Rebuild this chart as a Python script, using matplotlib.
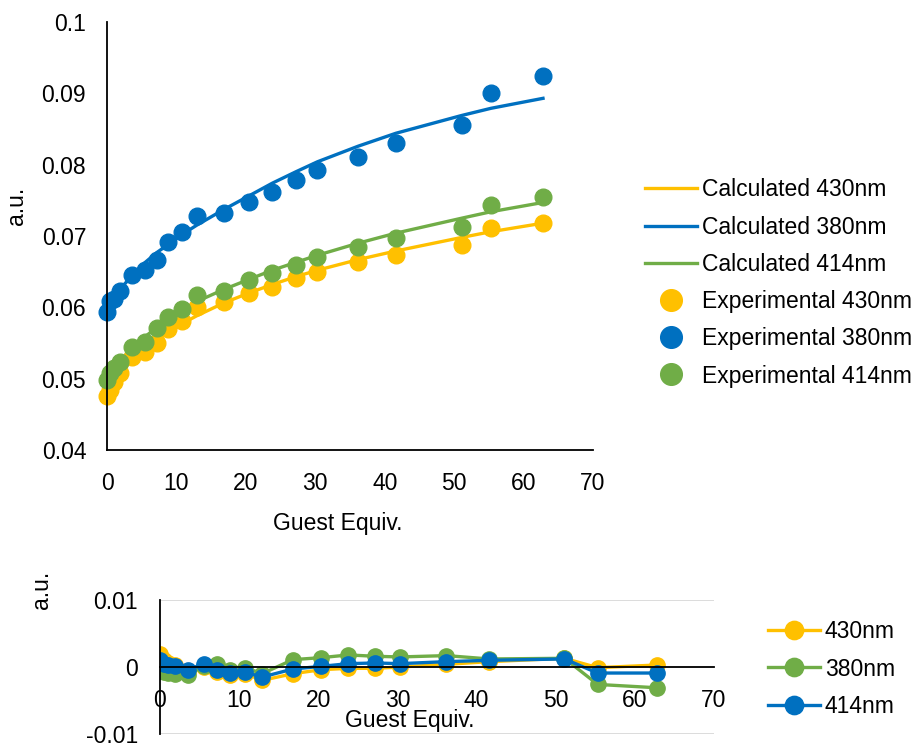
# titration fit: calculated vs experimental + residuals

import numpy as np
import matplotlib
matplotlib.use('Agg')
import matplotlib.pyplot as plt

plt.rcParams['font.family'] = ['Liberation Sans', 'DejaVu Sans']

# guest equivalents
guest = [0, 0.5, 1.0, 1.9, 3.6, 5.5, 7.2, 8.8, 10.8, 12.9, 16.8, 20.4,
         23.8, 27.2, 30.3, 36.2, 41.6, 51.1, 55.3, 62.8]

# experimental absorbance
exp430 = [0.0475, 0.0484, 0.0496, 0.0508, 0.0530, 0.0538, 0.0550, 0.0569, 0.0581, 0.0600,
          0.0608, 0.0620, 0.0629, 0.0641, 0.0650, 0.0663, 0.0674, 0.0687, 0.0711, 0.0718]
exp380 = [0.0593, 0.0609, 0.0611, 0.0623, 0.0645, 0.0652, 0.0666, 0.0691, 0.0705, 0.0728,
          0.0732, 0.0747, 0.0761, 0.0778, 0.0792, 0.0811, 0.0831, 0.0855, 0.0901, 0.0924]
exp414 = [0.0498, 0.0508, 0.0515, 0.0524, 0.0545, 0.0552, 0.0571, 0.0587, 0.0597, 0.0617,
          0.0623, 0.0638, 0.0648, 0.0659, 0.0671, 0.0684, 0.0697, 0.0713, 0.0743, 0.0754]

# calculated (fit)
calc430 = [0.0477, 0.0487, 0.0495, 0.0507, 0.0526, 0.0542, 0.0554, 0.0565, 0.0577, 0.0588,
           0.0606, 0.0620, 0.0632, 0.0643, 0.0652, 0.0667, 0.0679, 0.0698, 0.0706, 0.0718]
calc380 = [0.0596, 0.0606, 0.0614, 0.0626, 0.0644, 0.0663, 0.0677, 0.0688, 0.0702, 0.0715,
           0.0737, 0.0756, 0.0774, 0.0790, 0.0804, 0.0826, 0.0844, 0.0869, 0.0879, 0.0893]
calc414 = [0.0498, 0.0507, 0.0514, 0.0525, 0.0543, 0.0559, 0.0572, 0.0583, 0.0596, 0.0608,
           0.0625, 0.0639, 0.0652, 0.0663, 0.0673, 0.0690, 0.0704, 0.0725, 0.0734, 0.0747]

# residuals
res430 = [0.0020, 0.0010, 0.0006, 0.0003, -0.0007, 0.0000, -0.0007, -0.0012, -0.0010, -0.0020,
          -0.0010, -0.0004, -0.0002, -0.0002, 0.0000, 0.0004, 0.0008, 0.0013, -0.0001, 0.0003]
res380 = [-0.0006, -0.0008, -0.0009, -0.0010, -0.0012, 0.0002, 0.0005, -0.0004, -0.0001, -0.0010,
          0.0011, 0.0014, 0.0018, 0.0016, 0.0015, 0.0017, 0.0012, 0.0013, -0.0026, -0.0031]
res414 = [0.0010, 0.0005, 0.0003, 0.0001, -0.0004, 0.0005, -0.0004, -0.0009, -0.0008, -0.0015,
          -0.0003, 0.0001, 0.0005, 0.0006, 0.0005, 0.0008, 0.0010, 0.0012, -0.0009, -0.0009]

xticks = [0, 10, 20, 30, 40, 50, 60, 70]
yticks_main = [0.04, 0.05, 0.06, 0.07, 0.08, 0.09, 0.1]
ylabels_main = ['0.04', '0.05', '0.06', '0.07', '0.08', '0.09', '0.1']
yticks_res = [-0.01, 0, 0.01]
ylabels_res = ['-0.01', '0', '0.01']

orange = '#FFC000'
blue = '#0070C0'
green = '#70AD47'
fs = 16.5

fig = plt.figure(figsize=(9.24, 7.46), dpi=100)

# main chart
ax = fig.add_axes([107/924, 1-450/746, 486/924, 428/746])
ax.plot(guest, calc430, color=orange, lw=2.4, label='Calculated 430nm')
ax.plot(guest, calc380, color=blue, lw=2.4, label='Calculated 380nm')
ax.plot(guest, calc414, color=green, lw=2.4, label='Calculated 414nm')
ax.plot(guest, exp430, 'o', color=orange, ms=12, label='Experimental 430nm')
ax.plot(guest, exp380, 'o', color=blue, ms=12, label='Experimental 380nm')
ax.plot(guest, exp414, 'o', color=green, ms=12, label='Experimental 414nm')
ax.set_xlim(0, 70)
ax.set_ylim(0.04, 0.1)
ax.set_xticks(xticks)
ax.set_yticks(yticks_main)
ax.set_yticklabels(ylabels_main)
ax.tick_params(length=0, labelsize=fs)
ax.tick_params(axis='y', pad=15)
ax.tick_params(axis='x', pad=16)
for s in ['top', 'right']:
    ax.spines[s].set_visible(False)
for s in ['left', 'bottom']:
    ax.spines[s].set_linewidth(1.3)
for l in ax.lines:
    l.set_clip_on(False)
ax.set_ylabel('a.u.', fontsize=fs)
ax.yaxis.set_label_coords(-0.162, 0.57)
ax.set_xlabel('Guest Equiv.', fontsize=fs)
ax.xaxis.set_label_coords(0.475, -0.145)

fig.legend(*ax.get_legend_handles_labels(), loc='center left',
           bbox_to_anchor=(645/924, 1-283/746), frameon=False, fontsize=fs,
           handlelength=2.27, handletextpad=0.2, labelspacing=0.62,
           borderpad=0, borderaxespad=0, markerscale=1.3)

# residuals chart
ax2 = fig.add_axes([160/924, 1-734/746, 554/924, 134/746])
ax2.plot(guest, res430, '-o', color=orange, lw=2.4, ms=11, label='430nm')
ax2.plot(guest, res380, '-o', color=green, lw=2.4, ms=11, label='380nm')
ax2.plot(guest, res414, '-o', color=blue, lw=2.4, ms=11, label='414nm')
ax2.set_xlim(0, 70)
ax2.set_ylim(-0.01, 0.01)
ax2.set_xticks(xticks)
ax2.set_yticks(yticks_res)
ax2.set_yticklabels(ylabels_res)
ax2.yaxis.grid(True, color='#D9D9D9', lw=1.3)
ax2.set_axisbelow(True)
ax2.spines['bottom'].set_position(('data', 0))
for s in ['top', 'right']:
    ax2.spines[s].set_visible(False)
for s in ['left', 'bottom']:
    ax2.spines[s].set_linewidth(1.3)
ax2.tick_params(length=0, labelsize=fs)
ax2.tick_params(axis='y', pad=16)
ax2.tick_params(axis='x', pad=16)
ax2.set_ylabel('a.u.', fontsize=fs)
ax2.yaxis.set_label_coords(-0.193, 1.075)
ax2.set_xlabel('Guest Equiv.', fontsize=fs)
ax2.xaxis.set_label_coords(0.45, 0.19)

fig.legend(*ax2.get_legend_handles_labels(), loc='center left',
           bbox_to_anchor=(768/924, 1-669/746), frameon=False, fontsize=fs,
           handlelength=2.27, handletextpad=0.2, labelspacing=0.62,
           borderpad=0, borderaxespad=0, markerscale=1.2)

fig.savefig('out.png', dpi=100)
